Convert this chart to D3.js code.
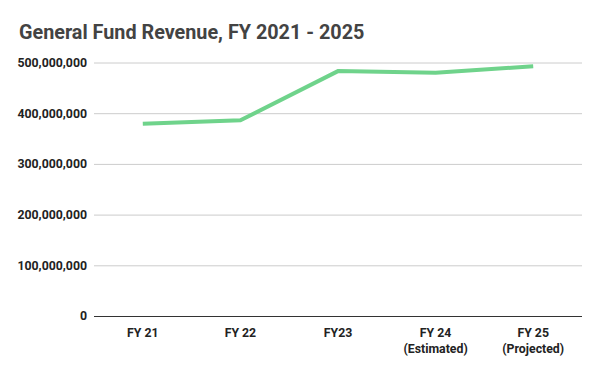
<!DOCTYPE html>
<html>
<head>
<meta charset="utf-8">
<script src="https://cdn.jsdelivr.net/npm/d3@7"></script>
<style>
  body { margin: 0; background: #fff; }
  svg { font-family: Roboto, "Noto Sans", sans-serif; }
</style>
</head>
<body>
<svg id="chart" width="600" height="371"></svg>
<script>
const years = ["FY 21", "FY 22", "FY23", "FY 24", "FY 25"]
const notes = ["", "", "", "(Estimated)", "(Projected)"]
const revenue = [379000000, 386000000, 483000000, 480000000, 492500000]
const yTicks = [0, 100000000, 200000000, 300000000, 400000000, 500000000]

const width = 600
const height = 371
const margin = { top: 62.5, right: 18, bottom: 55, left: 94 }

const svg = d3.select("#chart")

const x = d3.scaleBand()
  .domain(years)
  .range([margin.left, width - margin.right])

const y = d3.scaleLinear()
  .domain([0, 500000000])
  .range([height - margin.bottom, margin.top])

svg.append("text")
  .attr("x", 19)
  .attr("y", 38.5)
  .attr("fill", "#434343")
  .style("font-size", "19.8px")
  .style("font-weight", "bold")
  .text("General Fund Revenue, FY 2021 - 2025")

// gridlines + y labels
const yAxis = svg.append("g")
  .attr("transform", `translate(${margin.left},0)`)
  .call(d3.axisLeft(y)
    .tickValues(yTicks)
    .tickSize(-(width - margin.left - margin.right))
    .tickPadding(7)
    .tickFormat(d3.format(",")))

yAxis.select(".domain").remove()
yAxis.selectAll(".tick line")
  .attr("stroke", function (d) { return d === 0 ? "#333" : "#ccc" })
yAxis.selectAll(".tick text")
  .attr("fill", "#222")
  .style("font-size", "12.3px")
  .style("font-weight", "bold")
  .style("font-family", "Roboto, sans-serif")

const xAxis = svg.append("g")
  .attr("transform", `translate(0,${height - margin.bottom})`)
  .call(d3.axisBottom(x).tickSize(0).tickPadding(12))

xAxis.select(".domain").remove()
xAxis.selectAll(".tick text")
  .attr("fill", "#222")
  .style("font-size", "12.3px")
  .style("font-weight", "bold")
  .style("font-family", "Roboto, sans-serif")
  .each(function (d, i) {
    if (notes[i]) {
      d3.select(this).append("tspan")
        .attr("x", 0)
        .attr("dy", "1.3em")
        .text(notes[i])
    }
  })

const line = d3.line()
  .x(function (d, i) { return x(years[i]) + x.bandwidth() / 2 })
  .y(function (d) { return y(d) })

svg.append("path")
  .datum(revenue)
  .attr("fill", "none")
  .attr("stroke", "#6fd38b")
  .attr("stroke-width", 4)
  .attr("d", line)
</script>
</body>
</html>
